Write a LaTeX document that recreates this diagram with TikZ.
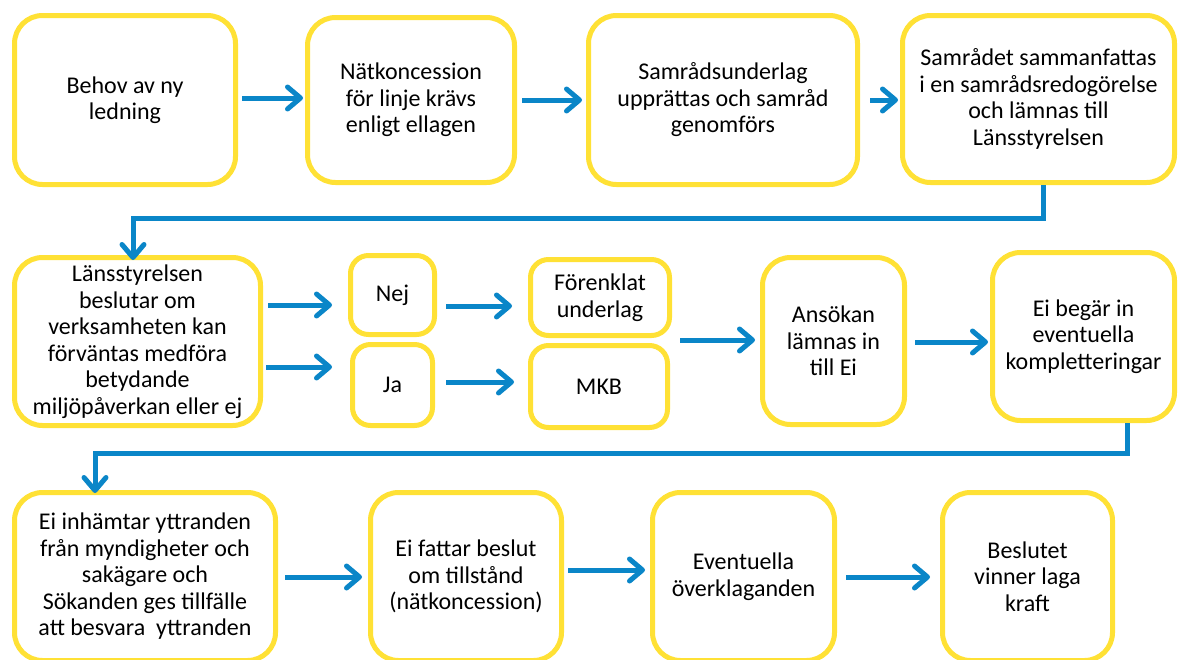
\documentclass[tikz,border=0pt]{standalone}
\usepackage{fontspec}
\setmainfont{Carlito}
\usetikzlibrary{arrows.meta}
\definecolor{boxyellow}{HTML}{FFE135}
\definecolor{arrowblue}{HTML}{0A86C8}
\begin{document}
\begin{tikzpicture}[x=1pt,y=-1pt,
  box/.style={draw=boxyellow, line width=5pt, rounded corners=28pt, fill=white,
    align=center, inner sep=0pt, text=black, font=\fontsize{24}{26.5}\selectfont},
  smallbox/.style={box, rounded corners=18pt},
  arr/.style={draw=arrowblue, line width=5pt,
    -{Straight Barb[length=13pt,width=22pt,round]}},
  conn/.style={draw=arrowblue, line width=5pt,
    -{Straight Barb[length=13pt,width=22pt,round]}}]
\useasboundingbox (0,0) rectangle (1178,659);
\begin{scope}
\clip (0,0) rectangle (1178,659);
% Row 1
\node[box, minimum width=221pt, minimum height=169pt] (b1) at (125,100) {Behov av ny\\ledning};
\node[box, minimum width=207pt, minimum height=165pt] (b2) at (411,100) {Nätkoncession\\för linje krävs\\enligt ellagen};
\node[box, minimum width=269pt, minimum height=169pt] (b3) at (723,100) {Samrådsunderlag\\upprättas och samråd\\genomförs};
\node[box, minimum width=272pt, minimum height=167pt] (b4) at (1038.5,99) {Samrådet sammanfattas\\i en samrådsredogörelse\\och lämnas till\\Länsstyrelsen};
% Row 2
\node[box, minimum width=246pt, minimum height=168pt] (ls) at (137.5,341.5) {Länsstyrelsen\\beslutar om\\verksamheten kan\\förväntas medföra\\betydande\\miljöpåverkan eller ej};
\node[smallbox, minimum width=84pt, minimum height=79pt] (nej) at (392.5,295) {Nej};
\node[smallbox, minimum width=80pt, minimum height=81pt] (ja) at (392.5,385) {Ja};
\node[smallbox, minimum width=139pt, minimum height=76pt] (fu) at (600,297.5) {Förenklat\\underlag};
\node[smallbox, minimum width=137pt, minimum height=82pt] (mkb) at (599,386.5) {MKB};
\node[box, minimum width=142pt, minimum height=167pt] (ans) at (833.5,341) {Ansökan\\lämnas in\\till Ei};
\node[box, minimum width=182pt, minimum height=168pt] (eib) at (1083.5,336.5) {Ei begär in\\eventuella\\kompletteringar};
% Row 3
\node[box, minimum width=261pt, minimum height=168pt] (c1) at (145,576.5) {Ei inhämtar yttranden\\från myndigheter och\\sakägare och\\Sökanden ges tillfälle\\att besvara\ \ yttranden};
\node[box, minimum width=191pt, minimum height=168pt] (c2) at (466,576.5) {Ei fattar beslut\\om tillstånd\\(nätkoncession)};
\node[box, minimum width=182pt, minimum height=168pt] (c3) at (743.5,576.5) {Eventuella\\överklaganden};
\node[box, minimum width=170pt, minimum height=168pt] (c4) at (1027.5,576.5) {Beslutet\\vinner laga\\kraft};
\end{scope}
% Row 1 arrows
\draw[arr] ([xshift=4pt]b1.east |- 0,98) -- ([xshift=-2pt]b2.west |- 0,98);
\draw[arr] ([xshift=5pt]b2.east |- 0,100) -- ([xshift=-4pt]b3.west |- 0,100);
\draw[arr] ([xshift=10pt]b3.east |- 0,100) -- ([xshift=-2pt]b4.west |- 0,100);
% b4 -> ls
\coordinate (k1) at (1043,218);
\coordinate (k2) at (133,218);
\draw[conn] (b4.south -| k1) -- (k1) -- (k2) -- ([yshift=-5pt]ls.north -| k2);
% Row 2 arrows
\draw[arr] ([xshift=5pt]ls.east |- 0,305) -- ([xshift=-16pt]nej.west |- 0,305);
\draw[arr] ([xshift=3pt]ls.east |- 0,367) -- ([xshift=-18pt]ja.west |- 0,367);
\draw[arr] ([xshift=9pt]nej.east |- 0,306) -- ([xshift=-16pt]fu.west |- 0,306);
\draw[arr] ([xshift=11pt]ja.east |- 0,382) -- ([xshift=-14pt]mkb.west |- 0,382);
\coordinate (split) at ([xshift=8pt]fu.east |- 0,340);
\draw[arr] (split) -- ([xshift=-5pt]ans.west |- 0,340);
\draw[arr] ([xshift=8pt]ans.east |- 0,342) -- ([xshift=-2pt]eib.west |- 0,342);
% eib -> c1
\coordinate (k3) at (1127,453);
\coordinate (k4) at (95,453);
\draw[conn] (eib.south -| k3) -- (k3) -- (k4) -- ([yshift=-3pt]c1.north -| k4);
% Row 3 arrows
\draw[arr] ([xshift=7pt]c1.east |- 0,577) -- ([xshift=-6pt]c2.west |- 0,577);
\draw[arr] ([xshift=4pt]c2.east |- 0,570) -- ([xshift=-5pt]c3.west |- 0,570);
\draw[arr] ([xshift=9pt]c3.east |- 0,577) -- ([xshift=-10pt]c4.west |- 0,577);
\end{tikzpicture}
\end{document}
